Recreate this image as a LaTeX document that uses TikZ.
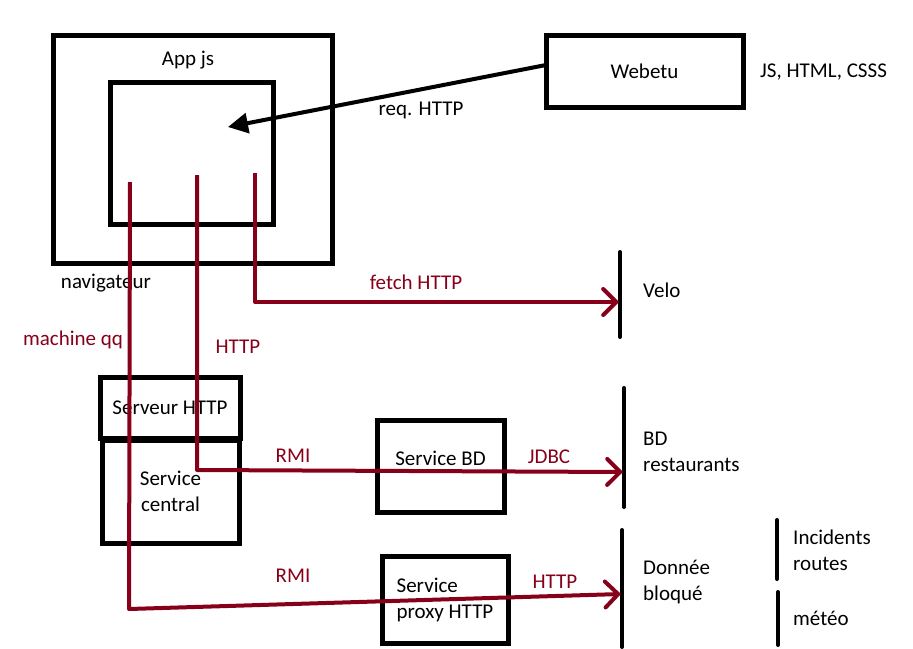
\documentclass[tikz,border=0pt]{standalone}
\usepackage{fontspec}
\setmainfont{Carlito}
\usetikzlibrary{arrows.meta,positioning}
\definecolor{wine}{HTML}{870019}
\tikzset{
  box/.style={draw=black,line width=5pt,inner sep=0pt,outer sep=0pt,align=center},
  txt/.style={font=\fontsize{21}{26}\selectfont,align=left,inner sep=0pt},
  redtxt/.style={txt,text=wine},
  bar/.style={draw=black,line width=4pt,line cap=round},
  flow/.style={draw=wine,line width=4pt,line join=round,
    -{Straight Barb[length=13pt,width=26pt,line cap=round]}},
  req/.style={draw=black,line width=4pt,-{Triangle[length=20pt,width=20pt]}},
}
\begin{document}
\begin{tikzpicture}[x=1pt,y=-1pt,font=\fontsize{21}{26}\selectfont]
  \useasboundingbox (0,0) rectangle (913,648);
  \node[box,minimum width=279pt,minimum height=228pt] (nav) at (192.5,149) {};
  \node[box,minimum width=163pt,minimum height=142pt] (app) at (191.5,153) {};
  \node[box,minimum width=197pt,minimum height=72pt] (webetu) at (644.5,71) {Webetu};
  \node[box,minimum width=140pt,minimum height=61pt] (serveur) at (170,407.5) {Serveur HTTP};
  \node[box,minimum width=137pt,minimum height=103pt] (central) at (170.5,491.5) {Service\\central};
  \node[box,minimum width=127pt,minimum height=92pt,text depth=16pt] (servbd) at (440.5,466) {Service BD};
  \node[box,minimum width=126pt,minimum height=87pt,align=left] (proxy) at (445,599.5) {Service\\proxy HTTP};
  \node[txt] (appjs) at (188,60) {App js};
  \node[txt] (navlbl) at (106,283) {navigateur};
  \node[txt,anchor=west] (techs) at (760,72) {JS, HTML, CSSS};
  \node[txt] (reqlbl) at (421,110) {req. HTTP};
  \node[txt,anchor=west] (velo) at (643,290) {Velo};
  \node[txt,anchor=west] (bdresto) at (643,452) {BD\\restaurants};
  \node[txt,anchor=west] (bloque) at (643,582) {Donnée\\bloqué};
  \node[txt,anchor=west] (incid) at (793,550) {Incidents\\routes};
  \node[txt,anchor=west] (meteo) at (793,618) {météo};
  \foreach \x/\a/\b in {620/252/337,624/388/507,622/530/647,777/520/579,778/592/645}
    \draw[bar] (\x,\a) -- (\x,\b);
  \coordinate (appin) at (228,127);
  \coordinate (a1) at (130,182);
  \coordinate (a2) at (197,175);
  \coordinate (a3) at (255,173);
  \coordinate (veloin) at (619,302);
  \coordinate (bdin) at (623,472);
  \coordinate (bloqin) at (621,594);
  \draw[req] ([yshift=6pt]webetu.west) -- (appin);
  \draw[flow] (a3) |- (veloin);
  \draw[flow] (a2) -- (197,470) -- (bdin);
  \draw[flow] (a1) -- (129,609) -- (bloqin);
  \node[redtxt] (fetchlbl) at (416,282) {fetch HTTP};
  \node[redtxt] (machlbl) at (73,340) {machine qq};
  \node[redtxt] (httplbl) at (238,347) {HTTP};
  \node[redtxt] (rmi1) at (293,456) {RMI};
  \node[redtxt] (jdbc) at (549,457) {JDBC};
  \node[redtxt] (rmi2) at (293,576) {RMI};
  \node[redtxt] (http2) at (555,582) {HTTP};
\end{tikzpicture}
\end{document}
